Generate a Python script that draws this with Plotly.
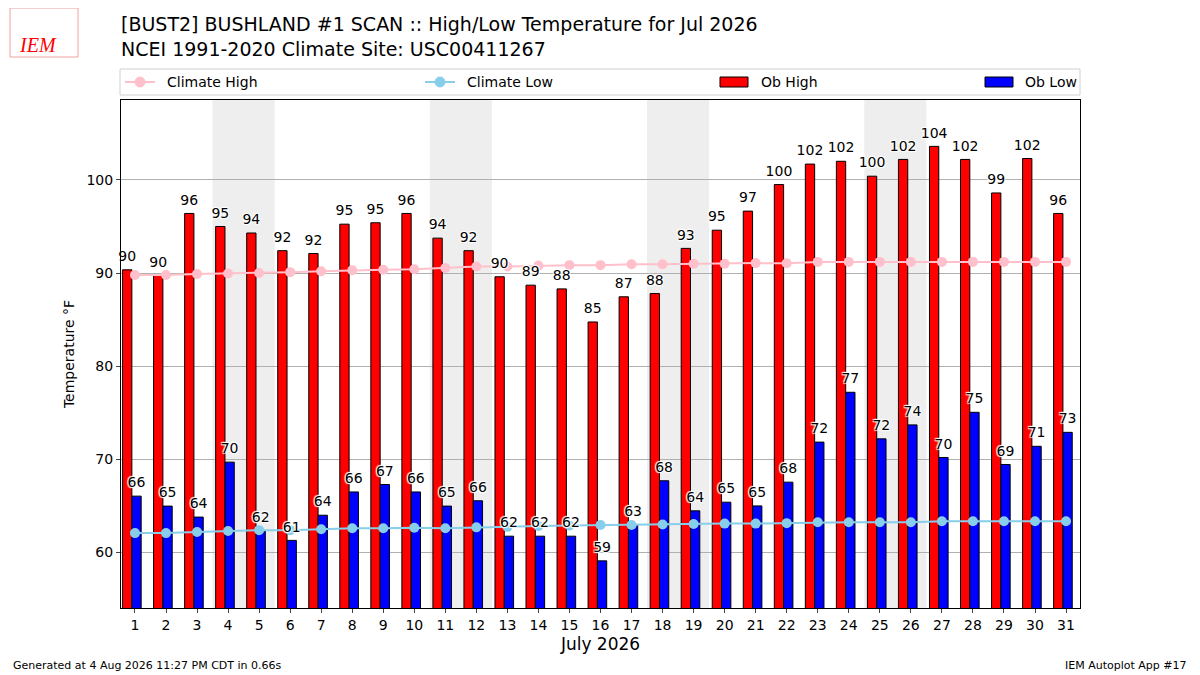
import plotly.graph_objects as go

# daily observations, July 2026 (deg F)
days = list(range(1, 32))
ob_high = [90.35, 89.75, 96.4, 95.0, 94.3, 92.4, 92.1, 95.25, 95.4, 96.4,
           93.75, 92.4, 89.6, 88.7, 88.3, 84.75, 87.45, 87.8, 92.65, 94.6,
           96.65, 99.5, 101.7, 102.0, 100.4, 102.2, 103.6, 102.2, 98.6, 102.3,
           96.4]
ob_low = [66.05, 64.98, 63.8, 69.7, 62.3, 61.3, 64.0, 66.5, 67.3, 66.5,
          64.98, 65.55, 61.75, 61.75, 61.75, 59.1, 63.0, 67.7, 64.47, 65.4,
          65.0, 67.55, 71.85, 77.2, 72.2, 73.7, 70.2, 75.05, 69.45, 71.4,
          72.9]
clim_high = [89.8, 89.8, 89.9, 89.95, 90.0, 90.1, 90.2, 90.3, 90.35, 90.4,
             90.55, 90.7, 90.7, 90.8, 90.85, 90.85, 90.95, 90.95, 91.0, 91.0,
             91.07, 91.05, 91.2, 91.2, 91.2, 91.2, 91.2, 91.2, 91.2, 91.2,
             91.2]
clim_low = [62.08, 62.08, 62.2, 62.3, 62.4, 62.4, 62.5, 62.6, 62.6, 62.65,
            62.6, 62.7, 62.75, 62.85, 62.9, 62.95, 62.95, 63.0, 63.05, 63.1,
            63.1, 63.15, 63.25, 63.25, 63.25, 63.25, 63.35, 63.35, 63.35, 63.35,
            63.35]
weekend_days = [4, 5, 11, 12, 18, 19, 25, 26]

FONT = "DejaVu Sans"
HALO = "1px 1px 1px white, -1px -1px 1px white, 1px -1px 1px white, -1px 1px 1px white"

# the page body has an 8px margin, so the figure is shrunk by that much
OFF = 8
# plot area in page pixels, used for the hand drawn legend / header
L, R, T, B = 121, 1080, 100, 608


def px(x):
    return (x - L) / (R - L)


def py(y):
    return (B - y) / (B - T)


fig = go.Figure()

fig.add_trace(go.Bar(x=days, y=ob_high, name="Ob High", base=0, width=0.3, offset=-0.4,
                     marker=dict(color="red", line=dict(color="black", width=1))))
fig.add_trace(go.Bar(x=days, y=ob_low, name="Ob Low", base=0, width=0.3, offset=-0.1,
                     marker=dict(color="blue", line=dict(color="black", width=1))))
fig.add_trace(go.Scatter(x=days, y=clim_high, name="Climate High", mode="lines+markers",
                         line=dict(color="pink", width=2), marker=dict(size=10, color="pink")))
fig.add_trace(go.Scatter(x=days, y=clim_low, name="Climate Low", mode="lines+markers",
                         line=dict(color="skyblue", width=2), marker=dict(size=10, color="skyblue")))

# value labels on top of everything
for vals, off in ((ob_high, -0.25), (ob_low, 0.05)):
    fig.add_trace(go.Scatter(x=[d + off for d in days], y=vals, mode="markers+text",
                             marker=dict(size=7, opacity=0),
                             text=[f"{v:.0f}" for v in vals], textposition="top center",
                             textfont=dict(size=14, color="black", shadow=HALO),
                             cliponaxis=False, hoverinfo="skip", showlegend=False))

for d in weekend_days[::2]:
    fig.add_vrect(x0=d - 0.5, x1=d + 1.5, fillcolor="#eeeeee", line_width=0, layer="below")

fig.update_layout(
    width=1200 - OFF, height=675 - OFF,
    margin=dict(l=L - OFF, r=1200 - R, t=T - OFF, b=675 - B, autoexpand=False),
    paper_bgcolor="white", plot_bgcolor="white",
    font=dict(family=FONT, size=14, color="black"),
    barmode="overlay",
    showlegend=False,
    xaxis=dict(range=[0.55, 31.45], tickmode="array", tickvals=days,
               ticks="outside", ticklen=4, showgrid=False, showline=True,
               linecolor="black", mirror=True, zeroline=False, automargin=False,
               title=dict(text="July 2026", font=dict(size=17), standoff=6)),
    yaxis=dict(range=[54.04, 108.58], tickvals=[60, 70, 80, 90, 100],
               ticks="outside", ticklen=4, showgrid=True, gridcolor="#b0b0b0",
               showline=True, linecolor="black", mirror=True, zeroline=False, automargin=False,
               title=dict(text="Temperature °F", font=dict(size=14), standoff=8)),
)

# legend box (drawn by hand to get the spread-out layout)
fig.add_shape(type="rect", xref="paper", yref="paper", x0=px(120), x1=px(1080), y0=py(95), y1=py(69),
              line=dict(color="#d0d0d0", width=1), fillcolor="white")
ly = py(82)
legend_lines = [("Climate High", "pink", 125, 155, 165), ("Climate Low", "skyblue", 425, 455, 465)]
for name, col, x0, x1, tx in legend_lines:
    fig.add_shape(type="line", xref="paper", yref="paper", x0=px(x0), x1=px(x1), y0=ly, y1=ly,
                  line=dict(color=col, width=2))
    xc = (x0 + x1) / 2
    fig.add_shape(type="circle", xref="paper", yref="paper", x0=px(xc - 5), x1=px(xc + 5),
                  y0=py(87), y1=py(77), line=dict(color=col, width=1), fillcolor=col)
    fig.add_annotation(text=name, xref="paper", yref="paper", x=px(tx), y=ly, xanchor="left",
                       yanchor="middle", showarrow=False, font=dict(size=14))
legend_patches = [("Ob High", "red", 720, 759), ("Ob Low", "blue", 985, 1023)]
for name, col, x0, tx in legend_patches:
    fig.add_shape(type="rect", xref="paper", yref="paper", x0=px(x0), x1=px(x0 + 28),
                  y0=py(87), y1=py(77), line=dict(color="black", width=1), fillcolor=col)
    fig.add_annotation(text=name, xref="paper", yref="paper", x=px(tx), y=ly, xanchor="left",
                       yanchor="middle", showarrow=False, font=dict(size=14))

fig.add_annotation(text="[BUST2] BUSHLAND #1 SCAN :: High/Low Temperature for Jul 2026<br>"
                        "NCEI 1991-2020 Climate Site: USC00411267",
                   xref="paper", yref="paper", x=px(119), y=py(11), xanchor="left", yanchor="top",
                   align="left", showarrow=False, font=dict(size=19))
fig.add_annotation(text="Generated at 4 Aug 2026 11:27 PM CDT in 0.66s", xref="paper", yref="paper",
                   x=px(11), y=py(665), xanchor="left", yanchor="middle",
                   showarrow=False, font=dict(size=11))
fig.add_annotation(text="IEM Autoplot App #17", xref="paper", yref="paper",
                   x=px(1189), y=py(665), xanchor="right", yanchor="middle",
                   showarrow=False, font=dict(size=11))
# logo stand-in
fig.add_shape(type="rect", xref="paper", yref="paper", x0=px(10), x1=px(78), y0=py(57), y1=py(8),
              line=dict(color="#f0a0a0", width=1))
fig.add_annotation(text="<i>IEM</i>", xref="paper", yref="paper", x=px(38), y=py(45),
                   xanchor="center", yanchor="middle", showarrow=False,
                   font=dict(family="Liberation Serif", size=20, color="red"))

fig.write_html("out.html")
